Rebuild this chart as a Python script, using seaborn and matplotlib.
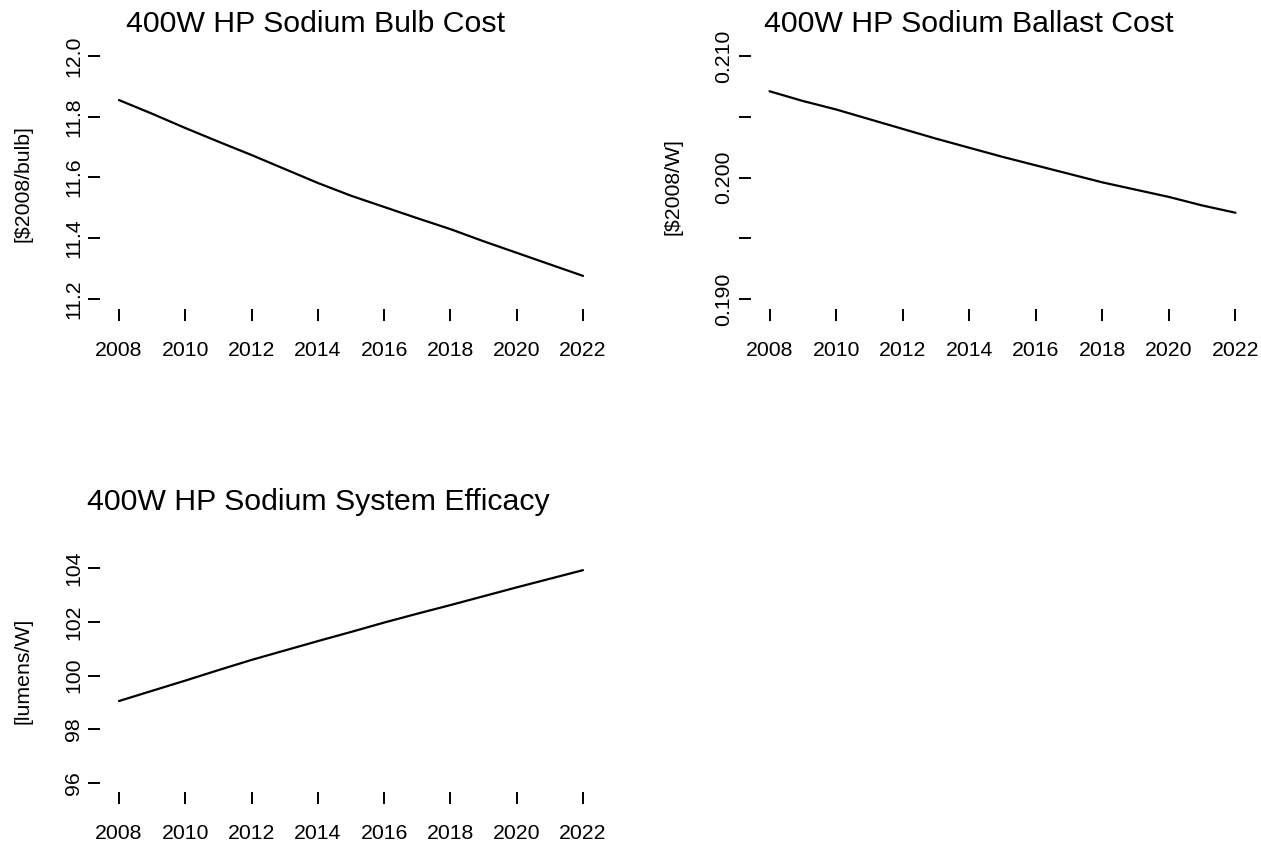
import matplotlib
matplotlib.use("Agg")
import matplotlib.pyplot as plt
import seaborn as sns
import pandas as pd

# Annual projections, 2008-2022
years = list(range(2008, 2023))
bulb_cost = [11.855, 11.810, 11.763, 11.718, 11.674, 11.628, 11.582, 11.540,
             11.503, 11.466, 11.430, 11.390, 11.352, 11.314, 11.276]
ballast_cost = [0.2071, 0.2063, 0.2056, 0.2048, 0.2040, 0.2032, 0.20245, 0.2017,
                0.2010, 0.2003, 0.1996, 0.1990, 0.1984, 0.1977, 0.1971]
efficacy = [99.05, 99.43, 99.81, 100.20, 100.58, 100.93, 101.28, 101.62,
            101.97, 102.30, 102.62, 102.95, 103.28, 103.60, 103.92]

x_ticks = list(range(2008, 2023, 2))
x_labels = [str(y) for y in x_ticks]
bulb_ticks = [11.2, 11.4, 11.6, 11.8, 12.0]
bulb_labels = ["11.2", "11.4", "11.6", "11.8", "12.0"]
ballast_ticks = [0.190, 0.195, 0.200, 0.205, 0.210]
ballast_labels = ["0.190", "", "0.200", "", "0.210"]
eff_ticks = [96, 98, 100, 102, 104]
eff_labels = ["96", "98", "100", "102", "104"]

titles = ["400W HP Sodium Bulb Cost", "400W HP Sodium Ballast Cost",
          "400W HP Sodium System Efficacy"]
ylabels = ["[$2008/bulb]", "[$2008/W]", "[lumens/W]"]

sns.set_style("white")
plt.rcParams["font.family"] = ["Liberation Sans", "DejaVu Sans"]
plt.rcParams["text.color"] = "black"
plt.rcParams["axes.labelcolor"] = "black"
plt.rcParams["xtick.color"] = "black"
plt.rcParams["ytick.color"] = "black"

W, H = 1261, 847
fig = plt.figure(figsize=(W / 100, H / 100), dpi=100)


def panel(left, top, right, bottom):
    return fig.add_axes([left / W, 1 - bottom / H, (right - left) / W, (bottom - top) / H])


def style(ax, yticks, ylabels_, ylim):
    ax.set_xlim(2007.44, 2022.56)
    ax.set_ylim(*ylim)
    ax.set_xticks(x_ticks)
    ax.set_xticklabels(x_labels)
    ax.set_yticks(yticks)
    ax.set_yticklabels(ylabels_, rotation=90, va="center")
    ax.set_xlabel("")
    ax.set_ylabel("")
    sns.despine(ax=ax, left=True, bottom=True, top=True, right=True)
    ax.tick_params(axis="both", direction="out", length=8.6, width=1.4,
                   color="black", labelsize=15.3, labelcolor="black")
    ax.tick_params(axis="x", pad=14.5, bottom=True)
    ax.tick_params(axis="y", pad=4.0, left=True)
    ax.grid(False)


ax1 = panel(100.4, 46.3, 601.6, 308.7)
ax2 = panel(750.9, 46.3, 1254.1, 308.7)
ax3 = panel(100.4, 559.4, 601.6, 791.6)

df = pd.DataFrame({"year": years, "bulb": bulb_cost,
                   "ballast": ballast_cost, "eff": efficacy})

sns.lineplot(data=df, x="year", y="bulb", ax=ax1, color="black", lw=1.6)
sns.lineplot(data=df, x="year", y="ballast", ax=ax2, color="black", lw=1.6)
sns.lineplot(data=df, x="year", y="eff", ax=ax3, color="black", lw=1.6)

style(ax1, bulb_ticks, bulb_labels, (11.168, 12.032))
style(ax2, ballast_ticks, ballast_labels, (0.1892, 0.2108))
style(ax3, eff_ticks, eff_labels, (95.68, 104.32))

# Titles and axis titles
fig.text(316 / W, 1 - 32 / H, titles[0], fontsize=21.8, ha="center", va="baseline")
fig.text(969 / W, 1 - 32 / H, titles[1], fontsize=21.8, ha="center", va="baseline")
fig.text(318 / W, 1 - 510 / H, titles[2], fontsize=21.8, ha="center", va="baseline")

fig.text(23 / W, 1 - 184 / H, ylabels[0], fontsize=15.3, rotation=90, ha="center", va="center")
fig.text(672.5 / W, 1 - 187 / H, ylabels[1], fontsize=15.3, rotation=90, ha="center", va="center")
fig.text(23 / W, 1 - 671 / H, ylabels[2], fontsize=15.3, rotation=90, ha="center", va="center")

fig.savefig("out.png", dpi=100, facecolor="white")
